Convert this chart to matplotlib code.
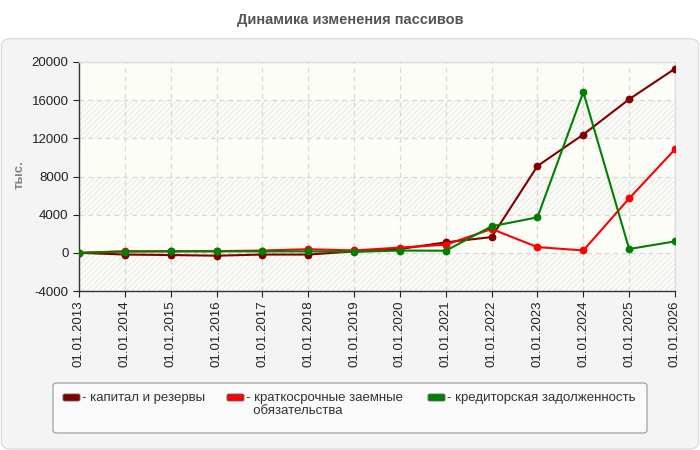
import matplotlib
matplotlib.use("Agg")
import matplotlib.pyplot as plt
from matplotlib.patches import FancyBboxPatch

plt.rcParams['font.family'] = ['Liberation Sans', 'DejaVu Sans']
plt.rcParams['hatch.linewidth'] = 0.6

dates = ["01.01.2013", "01.01.2014", "01.01.2015", "01.01.2016", "01.01.2017",
         "01.01.2018", "01.01.2019", "01.01.2020", "01.01.2021", "01.01.2022",
         "01.01.2023", "01.01.2024", "01.01.2025", "01.01.2026"]
kapital = [0, -180, -230, -300, -180, -180, 150, 400, 1100, 1650, 9100, 12400, 16100, 19300]
kratko = [0, 170, 170, 180, 240, 380, 250, 550, 850, 2500, 600, 250, 5700, 10850]
kredit = [0, 130, 150, 150, 150, 150, 100, 240, 220, 2780, 3720, 16850, 400, 1200]

series_names = ["- капитал и резервы", "- краткосрочные заемные\n  обязательства",
                "- кредиторская задолженность"]
colors = ["#800000", "#ff0000", "#008000"]
yticks = [-4000, 0, 4000, 8000, 12000, 16000, 20000]

fig = plt.figure(figsize=(7, 4.5), dpi=100)
fig.patch.set_facecolor("white")

# panel
panel = FancyBboxPatch((0.002, 0.002), 0.996, 0.912, boxstyle="round,pad=0,rounding_size=0.015",
                       transform=fig.transFigure, facecolor="#f4f4f4", edgecolor="#dddddd",
                       linewidth=1, zorder=-10)
fig.patches.append(panel)

fig.text(0.5, 1-20/450, "Динамика изменения пассивов", ha="center", va="center",
         fontsize=10.5, fontweight="bold", color="#555555")

ax = fig.add_axes([79/700, 1-291/450, 596/700, 229/450])
ax.set_zorder(2)
ax.set_facecolor("#fdfdf8")
x = list(range(len(dates)))
ax.set_xlim(0, len(dates)-1)
ax.set_ylim(-4000, 20000)

for i in range(len(yticks)-1):
    lo, hi = yticks[i], yticks[i+1]
    if i % 2 == 0:
        ax.axhspan(lo, hi, facecolor="#fbfbf8", edgecolor="#e6e6e6", hatch="//////",
                   linewidth=0, zorder=0)
    else:
        ax.axhspan(lo, hi, facecolor="#fdfdf8", linewidth=0, zorder=0)

ax.grid(True, color="#d8d8d8", linestyle=(0, (4, 3)), linewidth=0.9, zorder=1)
ax.set_axisbelow(True)

for data, c in zip([kapital, kratko, kredit], colors):
    ax.plot(x, data, color=c, linewidth=1.5, marker="o", markersize=4.6, zorder=3)

ax.set_yticks(yticks)
ax.set_yticklabels([str(v) for v in yticks])
ax.set_xticks(x)
ax.set_xticklabels(dates, rotation=90)
ax.tick_params(axis="both", labelsize=9.5, colors="#222222", length=4, width=0.8, direction="out")
ax.tick_params(axis="x", pad=3)
for s in ["left", "bottom"]:
    ax.spines[s].set_color("#333333")
    ax.spines[s].set_linewidth(1)
for s in ["top", "right"]:
    ax.spines[s].set_color("#dddddd")
    ax.spines[s].set_linewidth(1)

fig.text(20/700, 1-175/450, "тыс.", rotation=90, ha="center", va="center",
         fontsize=9.5, fontweight="bold", color="#888888")

# legend box
leg = FancyBboxPatch((53/700, 1-433/450), 594/700, 50/450,
                     boxstyle="round,pad=0,rounding_size=0.006",
                     transform=fig.transFigure, facecolor="#fafafa", edgecolor="#aaaaaa",
                     linewidth=1, zorder=1)
fig.patches.append(leg)
swatch_x = [63, 227, 428]
for sx, c, name in zip(swatch_x, colors, series_names):
    sw = FancyBboxPatch((sx/700, 1-401/450), 17/700, 7/450,
                        boxstyle="round,pad=0,rounding_size=0.003",
                        transform=fig.transFigure, facecolor=c, edgecolor="#666666",
                        linewidth=0.6, zorder=2)
    fig.patches.append(sw)
    fig.text((sx+19)/700, 1-392/450, name, ha="left", va="top", fontsize=9.5,
             color="#333333", linespacing=1.15)

fig.savefig("out.png", dpi=100, facecolor=fig.get_facecolor())
